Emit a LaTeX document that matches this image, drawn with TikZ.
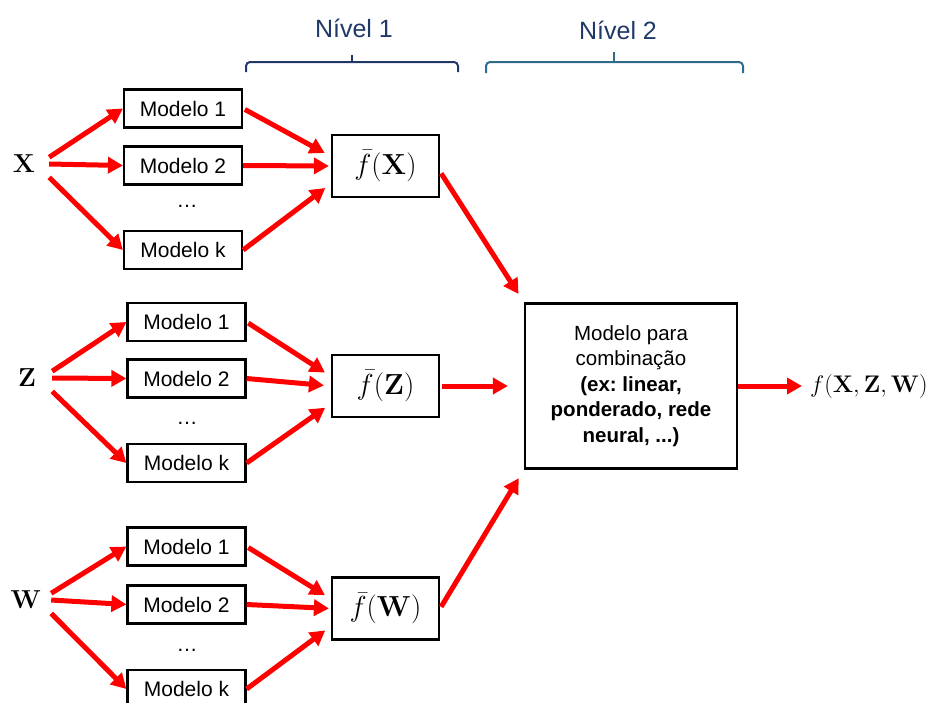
\RequirePackage{fix-cm}
\documentclass[tikz,border=0pt]{standalone}
\usepackage[no-math]{fontspec}
\setmainfont{Liberation Sans}
\usetikzlibrary{arrows.meta}

\definecolor{navy}{HTML}{1F3868}
\definecolor{tealblue}{HTML}{2E6B8C}

\tikzset{
    modelbox/.style={draw, line width=2.2pt, minimum width=118pt, minimum height=38pt, inner sep=0pt, font=\fontsize{21}{25}\selectfont},
    avgbox/.style={draw, line width=2.2pt, minimum width=107pt, minimum height=62pt, inner sep=0pt, font=\fontsize{29}{34}\selectfont},
    inputvar/.style={minimum width=50pt, minimum height=30pt, inner sep=0pt, font=\fontsize{26}{30}\selectfont},
    dotslabel/.style={font=\fontsize{21}{25}\selectfont},
    levellabel/.style={navy, font=\fontsize{25}{30}\selectfont},
    redarrow/.style={red, line width=5pt, -{Triangle[length=15pt,width=16pt]}},
}

\begin{document}
\frenchspacing
\begin{tikzpicture}[x=1pt, y=-1pt]
        \useasboundingbox (0,0) rectangle (937,702);

        % Levels
        \node[levellabel] (niv1) at (354,28) {Nível 1};
        \node[levellabel] (niv2) at (618,30) {Nível 2};
        \draw[navy, line width=2pt, rounded corners=4pt] (246,72) -- (246,62) -- (458,62) -- (458,72);
        \draw[navy, line width=2pt] (352,62) -- (352,55);
        \draw[tealblue, line width=2pt, rounded corners=4pt] (486,73) -- (486,62) -- (743,62) -- (743,73);
        \draw[tealblue, line width=2pt] (614,62) -- (614,52);

        % Group X
        \node[inputvar] (X) at (24,164) {$\mathbf{X}$};
        \node[modelbox] (m1x) at (183,108.5) {Modelo 1};
        \node[modelbox] (m2x) at (183,165.5) {Modelo 2};
        \node[dotslabel] (dx) at (187,206) {\dots};
        \node[modelbox] (mkx) at (183,250) {Modelo k};
        \node[avgbox] (fx) at (385.5,166) {$\bar{f}(\mathbf{X})$};

        % Group Z
        \node[inputvar] (Z) at (27,378) {$\mathbf{Z}$};
        \node[modelbox] (m1z) at (186.5,322) {Modelo 1};
        \node[modelbox] (m2z) at (186.5,378.5) {Modelo 2};
        \node[dotslabel] (dz) at (187,423) {\dots};
        \node[modelbox] (mkz) at (186.5,463) {Modelo k};
        \node[avgbox] (fz) at (385.5,386) {$\bar{f}(\mathbf{Z})$};

        % Group W
        \node[inputvar] (W) at (26,600) {$\mathbf{W}$};
        \node[modelbox] (m1w) at (186.5,546.5) {Modelo 1};
        \node[modelbox] (m2w) at (186.5,604.5) {Modelo 2};
        \node[dotslabel] (dw) at (187,650) {\dots};
        \node[modelbox] (mkw) at (186.5,689) {Modelo k};
        \node[avgbox] (fw) at (385.5,608.5) {$\bar{f}(\mathbf{W})$};

        % Combination model and output
        \node[draw, line width=2.2pt, minimum width=212pt, minimum height=165pt, align=center,
              font=\fontsize{20.5}{25.5}\selectfont] (comb) at (631,386)
             {Modelo para\\combinação\\\textbf{(ex: linear,}\\\textbf{ponderado, rede}\\\textbf{neural, ...)}};
        \node[anchor=west, inner sep=2pt, font=\fontsize{24}{30}\selectfont] (out) at (808,386)
             {$f(\mathbf{X}{,}\,\mathbf{Z}{,}\,\mathbf{W})$};

        % Arrows: inputs to models
        \draw[redarrow] (X.15) -- (m1x.west);
        \draw[redarrow] (X.east) -- (m2x.west);
        \draw[redarrow] (X.-28) -- (mkx.west);
        \draw[redarrow] (Z.15) -- (m1z.west);
        \draw[redarrow] (Z.east) -- (m2z.west);
        \draw[redarrow] (Z.-28) -- (mkz.west);
        \draw[redarrow] (W.15) -- (m1w.west);
        \draw[redarrow] (W.east) -- (m2w.west);
        \draw[redarrow] (W.-28) -- (mkw.west);

        % Arrows: models to averages
        \draw[redarrow, shorten <=2pt, shorten >=7pt] (m1x.east) -- (fx.170);
        \draw[redarrow, shorten >=2pt] (m2x.east) -- (fx.west);
        \draw[redarrow, shorten >=7pt] (mkx.east) -- (fx.198);
        \draw[redarrow, shorten <=2pt, shorten >=7pt] (m1z.east) -- (fz.170);
        \draw[redarrow, shorten >=7pt] (m2z.east) -- (fz.west);
        \draw[redarrow, shorten >=7pt] (mkz.east) -- (fz.198);
        \draw[redarrow, shorten <=2pt, shorten >=7pt] (m1w.east) -- (fw.170);
        \draw[redarrow, shorten >=2pt] (m2w.east) -- (fw.west);
        \draw[redarrow, shorten >=7pt] (mkw.east) -- (fw.198);

        % Arrows: level 1 to level 2
        \draw[redarrow, shorten <=2pt, shorten >=10pt] (fx.-6) -- (comb.north west);
        \draw[redarrow, shorten <=2pt, shorten >=16pt] (fz.east) -- (comb.west);
        \draw[redarrow, shorten <=2pt, shorten >=10pt] (fw.east) -- (comb.south west);
        \draw[redarrow, shorten >=6pt] (comb.east) -- (out.west);

    \end{tikzpicture}
\end{document}
